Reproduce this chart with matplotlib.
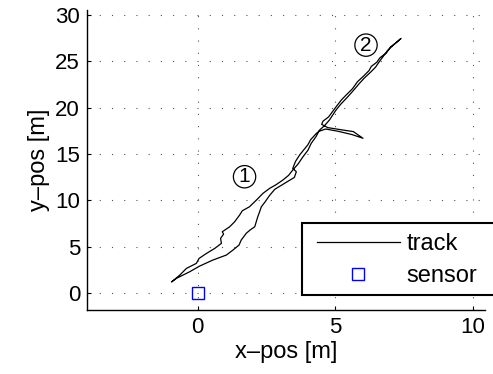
import numpy as np
import matplotlib.pyplot as plt
from matplotlib.patches import Rectangle

plt.rcParams['font.family'] = ['Liberation Sans', 'DejaVu Sans']

# track: out along the upper branch, back along the lower one
track_x = [-0.94, -0.65, -0.41, -0.05, 0.05, 0.32, 0.62, 0.86, 0.83, 0.94, 0.89,
           1.16, 1.34, 1.52, 1.62, 1.88, 2.13, 2.37, 2.61, 2.85, 3.09, 3.30, 3.45,
           3.65, 3.82, 4.00, 4.12, 4.30, 4.42, 4.60, 4.78, 5.02, 5.20, 5.45, 5.65,
           5.87, 6.05, 6.29, 6.45, 6.59, 6.75, 6.90, 7.10, 7.38,
           7.22, 7.00, 6.85, 6.62, 6.50, 6.30, 6.22, 6.00, 5.80, 5.62, 5.40, 5.22,
           5.05, 4.90, 4.75, 4.55, 4.50, 4.72, 5.20, 5.65, 6.00, 5.60, 5.10, 4.65,
           4.40, 4.30, 4.10, 4.00, 3.85, 3.70, 3.55, 3.45, 3.58, 3.51, 3.15, 2.80,
           2.60, 2.45, 2.31, 2.25, 2.18, 2.07, 1.90, 1.76, 1.58, 1.50, 1.28, 1.04,
           0.55, 0.07, -0.29, -0.77, -0.94]
track_y = [1.22, 1.94, 2.66, 3.20, 3.74, 4.28, 4.82, 5.36, 5.90, 6.36, 6.61,
           7.15, 7.69, 8.41, 8.88, 9.31, 10.03, 10.76, 11.29, 11.70, 12.19, 12.70, 13.27,
           13.95, 14.70, 15.40, 16.15, 16.90, 17.58, 18.05, 18.66, 19.74, 20.40, 21.18, 21.85,
           22.62, 23.20, 23.87, 24.35, 24.95, 25.60, 26.20, 26.75, 27.47,
           27.05, 26.55, 25.90, 25.40, 24.90, 24.45, 24.00, 23.35, 22.80, 22.05, 21.40, 20.85,
           20.20, 19.60, 19.00, 18.55, 18.20, 17.85, 17.62, 17.42, 16.70, 17.10, 17.45, 17.70,
           17.45, 17.20, 16.55, 16.00, 15.45, 14.90, 14.20, 13.45, 13.09, 12.48, 11.83, 11.20,
           10.50, 9.85, 9.31, 8.80, 8.23, 7.15, 6.80, 6.44, 5.72, 5.18, 4.64, 4.10,
           3.56, 2.91, 2.30, 1.59, 1.22]
sensor_x = [0.0]
sensor_y = [0.0]

labels = ['1', '2']
label_x = [1.70, 6.11]
label_y = [12.55, 26.75]

fig = plt.figure(figsize=(4.93, 3.74), dpi=100)
ax = fig.add_axes([87 / 493, 1 - 310 / 374, 398 / 493, 300 / 374])

ax.plot(track_x, track_y, color='k', lw=0.9, label='track')
ax.plot(sensor_x, sensor_y, ls='none', marker='s', ms=9, mfc='none',
        mec='#0000ff', mew=1.0, label='sensor')

for t, lx, ly in zip(labels, label_x, label_y):
    ax.text(lx, ly, t, fontsize=15, ha='center', va='center',
            bbox=dict(boxstyle='circle,pad=0.08', fc='none', ec='k', lw=0.9))

ax.set_xlim(-4.02, 10.43)
ax.set_ylim(-1.83, 30.54)
ax.set_xticks([0, 5, 10])
ax.set_yticks(np.arange(0, 31, 5))
ax.grid(True, color='#555555', ls=(0, (1, 10)), lw=0.8)
for s in ['top', 'right']:
    ax.spines[s].set_visible(False)
for s in ['left', 'bottom']:
    ax.spines[s].set_linewidth(1.0)
ax.tick_params(direction='in', length=3, width=0.8, labelsize=16, pad=5)
ax.set_xlabel('x\u2013pos [m]', fontsize=17, labelpad=2)
ax.set_ylabel('y\u2013pos [m]', fontsize=17, labelpad=4)

# legend frame runs past the right edge of the figure, as in the reference
frame = Rectangle((301.7 / 493, 1 - 295 / 374), 0.5, 71.7 / 374,
                  transform=fig.transFigure, fc='white', ec='k', lw=1.5,
                  clip_on=False, zorder=5)
ax.add_patch(frame)
leg = ax.legend(loc='upper left', bbox_to_anchor=(311 / 493, 1 - 227 / 374),
                bbox_transform=fig.transFigure, fontsize=17, frameon=False,
                borderpad=0.25, borderaxespad=0, handlelength=3.5,
                handletextpad=0.3, labelspacing=0.44)
leg.set_zorder(6)

fig.savefig('out.png', dpi=100)
